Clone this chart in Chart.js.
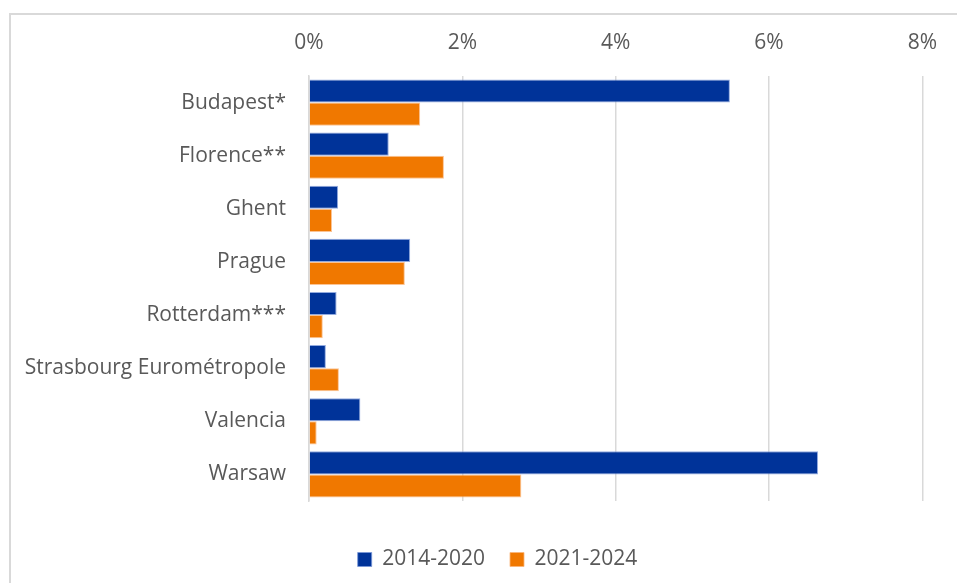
<!DOCTYPE html>
<html>
<head>
<meta charset="utf-8">
<script src="https://cdn.jsdelivr.net/npm/chart.js@4/dist/chart.umd.min.js"></script>
<style>
    html, body { margin: 0; padding: 0; background: #ffffff; }
    .wrap { position: relative; width: 957px; height: 583px; overflow: hidden; }
    .frame {
        position: absolute; left: 9px; top: 13px; width: 1000px; height: 700px;
        border-left: 2px solid #d9d9d9; border-top: 2px solid #d9d9d9;
    }
    #growthChart { position: absolute; left: 0; top: 0; }
</style>
</head>
<body>
<div class="wrap">
    <div class="frame"></div>
    <canvas id="growthChart" width="957" height="583"></canvas>
</div>
<script>
const cities = ['Budapest*', 'Florence**', 'Ghent', 'Prague', 'Rotterdam***', 'Strasbourg Eurométropole', 'Valencia', 'Warsaw'];
const periods = ['2014-2020', '2021-2024'];
const growth2014 = [5.49, 1.04, 0.38, 1.32, 0.36, 0.22, 0.67, 6.64];
const growth2021 = [1.45, 1.76, 0.30, 1.25, 0.18, 0.39, 0.10, 2.77];
const xTicks = [0, 2, 4, 6, 8];

const BLUE = '#003399';
const ORANGE = '#F07800';
const TEXT = '#595959';
const FONT = "'Open Sans', 'DejaVu Sans', sans-serif";

const PAD_LEFT = 10;
const PLOT_LEFT = 309;

// legend row sits low under the plot and a bit right of the canvas centre
const legendPlacement = {
    id: 'legendPlacement',
    beforeInit(chart) {
        if (!chart.legend) return;
        const fit = chart.legend.fit;
        chart.legend.fit = function() {
            fit.call(this);
            this.height = 82;
        };
    },
    afterLayout(chart) {
        const lg = chart.legend;
        if (!lg) return;
        lg.left += 30;
        lg.right += 30;
    }
};

new Chart(document.getElementById('growthChart'), {
    type: 'bar',
    data: {
        labels: cities,
        datasets: [{
            label: periods[0],
            data: growth2014,
            backgroundColor: BLUE,
            borderColor: 'rgba(120, 150, 215, 0.8)',
            borderWidth: 1,
            borderSkipped: 'left'
        }, {
            label: periods[1],
            data: growth2021,
            backgroundColor: ORANGE,
            borderColor: 'rgba(250, 180, 120, 0.8)',
            borderWidth: 1,
            borderSkipped: 'left'
        }]
    },
    options: {
        indexAxis: 'y',
        responsive: false,
        animation: false,
        datasets: {
            bar: {
                categoryPercentage: 0.87,
                barPercentage: 1
            }
        },
        layout: {
            padding: { top: 32, right: 32, bottom: 0, left: PAD_LEFT }
        },
        plugins: {
            tooltip: { enabled: false },
            legend: {
                position: 'bottom',
                title: {
                    display: true,
                    text: '',
                    font: { size: 10, lineHeight: 1 },
                    padding: { top: 13, bottom: 0 }
                },
                labels: {
                    color: TEXT,
                    font: { family: FONT, size: 21 },
                    boxWidth: 14,
                    boxHeight: 14,
                    padding: 25
                }
            }
        },
        scales: {
            x: {
                position: 'top',
                min: 0,
                max: 8,
                afterBuildTicks(scale) {
                    scale.ticks = xTicks.map(v => ({ value: v }));
                },
                afterFit(scale) {
                    scale.height = 44;
                },
                grid: {
                    color: '#d9d9d9',
                    lineWidth: 1.5,
                    drawTicks: false
                },
                border: { display: false },
                ticks: {
                    color: TEXT,
                    font: { family: FONT, size: 21 },
                    padding: 20,
                    callback: v => v + '%'
                }
            },
            y: {
                afterFit(scale) {
                    scale.width = PLOT_LEFT - PAD_LEFT;
                },
                grid: { display: false },
                border: { display: true, color: '#d9d9d9', width: 1.5 },
                ticks: {
                    color: TEXT,
                    font: { family: FONT, size: 21 },
                    padding: 15
                }
            }
        }
    },
    plugins: [legendPlacement]
});
</script>
</body>
</html>
